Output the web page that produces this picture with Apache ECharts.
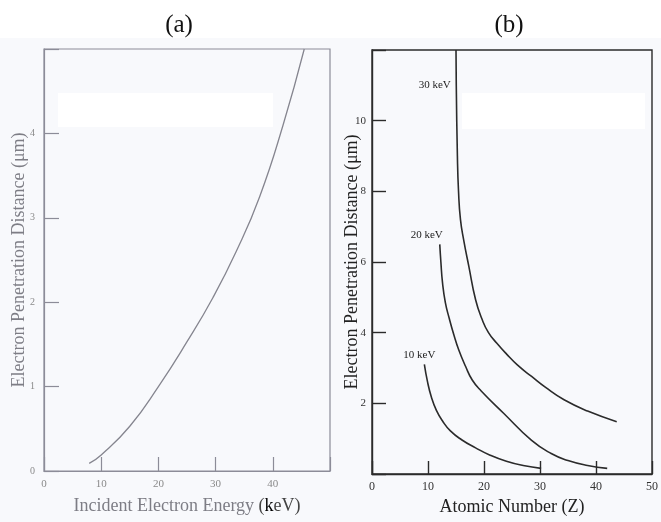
<!DOCTYPE html>
<html><head><meta charset="utf-8">
<script src="https://cdn.jsdelivr.net/npm/echarts@6/dist/echarts.min.js"></script>
<style>html,body{margin:0;padding:0;background:#f8f9fc}#c{width:661px;height:522px}</style>
</head><body><div id="c"></div>
<script>
// Panel (a): penetration distance vs incident energy
const energyKeV = [7.9, 10, 15, 20, 24.9, 29.5, 33.6, 37.7, 41.8, 45.5];
const depthA    = [0.09, 0.19, 0.53, 1.0, 1.52, 2.05, 2.6, 3.25, 4.1, 5.0];
// Panel (b): penetration distance vs atomic number
const z30 = [15.0, 15.05, 15.25, 15.45, 15.8, 16.4, 17.3, 18.5, 19.6, 20.8, 22.3, 24.0, 26.0, 28.5, 31.0, 34.3, 38.5, 43.7];
const d30 = [12.0, 11.0, 9.0, 8.0, 7.2, 6.6, 5.87, 4.93, 4.4, 4.0, 3.7, 3.4, 3.08, 2.76, 2.45, 2.1, 1.78, 1.48];
const z20 = [12.1, 12.3, 12.6, 13.1, 13.8, 14.6, 15.5, 16.7, 17.9, 19.5, 23.5, 28.5, 32.0, 35.0, 38.5, 42.0];
const d20 = [6.5, 6.0, 5.4, 4.85, 4.4, 3.95, 3.51, 3.05, 2.66, 2.35, 1.72, 0.95, 0.58, 0.38, 0.24, 0.16];
const z10 = [9.35, 9.9, 10.6, 11.5, 12.6, 14.0, 16.0, 18.5, 21.0, 24.0, 27.0, 30.2];
const d10 = [3.1, 2.62, 2.18, 1.8, 1.5, 1.22, 0.97, 0.74, 0.54, 0.36, 0.24, 0.16];
const seriesNames = ['30 keV', '20 keV', '10 keV'];
const titles = ['(a)', '(b)'];

const zip = (a, b) => a.map((v, i) => [v, b[i]]);
const GA = '#8c8c98', GT = '#8a8a8a', DK = '#2b2b2b';
const serif = 'Liberation Serif';

function tag(xs, ys, name, idx, pos, off) {
  return { silent: true, animation: false, data: [{
    coord: [xs[idx], ys[idx]], symbol: 'circle', symbolSize: 1, itemStyle: { color: 'rgba(0,0,0,0)' },
    label: { show: true, formatter: name, position: pos, offset: off, distance: 4,
      fontFamily: serif, fontSize: 11, color: '#222', letterSpacing: -0.5 } }] };
}

const lineBase = { type: 'line', smooth: 0.5, symbol: 'none' };

const chart = echarts.init(document.getElementById('c'), null, { renderer: 'canvas' });
chart.setOption({
  backgroundColor: '#f8f9fc',
  animation: false,
  title: [
    { text: titles[0], left: 174, top: 8, textAlign: 'center', textStyle: { fontFamily: serif, fontSize: 25, fontWeight: 'normal', color: '#111' } },
    { text: titles[1], left: 504, top: 8, textAlign: 'center', textStyle: { fontFamily: serif, fontSize: 25, fontWeight: 'normal', color: '#111' } }
  ],
  graphic: [
    { type: 'rect', z: -10, shape: { x: 0, y: 0, width: 661, height: 38 }, style: { fill: '#ffffff' } },
    { type: 'rect', z: 0, shape: { x: 58, y: 93, width: 215, height: 34 }, style: { fill: '#ffffff' } },
    { type: 'rect', z: 0, shape: { x: 462, y: 93, width: 183, height: 36 }, style: { fill: '#ffffff' } }
  ],
  grid: [
    { left: 44, top: 49, width: 286, height: 422, show: true, borderColor: GA, borderWidth: 1.2, backgroundColor: 'transparent' },
    { left: 372, top: 50, width: 284, height: 424, show: true, borderColor: DK, borderWidth: 1.4, backgroundColor: 'transparent' }
  ],
  xAxis: [
    { gridIndex: 0, type: 'value', min: 0, max: 50, interval: 10,
      name: '{g|Incident Electron Energy }{d|(}{k|k}{d|eV)}', nameLocation: 'middle', nameGap: 26,
      nameMoveOverlap: false,
      nameTextStyle: { rich: {
        g: { fontFamily: serif, fontSize: 18, color: '#7d7d85' },
        d: { fontFamily: serif, fontSize: 18, color: '#444' },
        k: { fontFamily: serif, fontSize: 18, color: '#000' } } },
      axisLine: { lineStyle: { color: GA, width: 1.2 } },
      axisTick: { inside: true, length: 14, lineStyle: { color: GA, width: 1.2 } },
      axisLabel: { margin: 8, fontFamily: serif, fontSize: 11, color: GT,
        formatter: v => v === 50 ? '' : String(v) },
      splitLine: { show: false } },
    { gridIndex: 1, type: 'value', min: 0, max: 50, interval: 10,
      name: 'Atomic Number (Z)', nameLocation: 'middle', nameGap: 24, nameMoveOverlap: false,
      nameTextStyle: { fontFamily: serif, fontSize: 18, color: '#222' },
      axisLine: { lineStyle: { color: DK, width: 1.4 } },
      axisTick: { inside: true, length: 13, lineStyle: { color: DK, width: 1.4 } },
      axisLabel: { margin: 7, fontFamily: serif, fontSize: 12, color: '#333' },
      splitLine: { show: false } }
  ],
  yAxis: [
    { gridIndex: 0, type: 'value', min: 0, max: 5, interval: 1,
      name: 'Electron Penetration Distance (μm)', nameLocation: 'middle', nameGap: 16, nameMoveOverlap: false,
      nameTextStyle: { fontFamily: serif, fontSize: 18, color: '#7d7d85' },
      axisLine: { lineStyle: { color: GA, width: 1.2 } },
      axisTick: { inside: true, length: 15, lineStyle: { color: GA, width: 1.2 } },
      axisLabel: { margin: 9, fontFamily: serif, fontSize: 10, color: GT,
        formatter: v => v === 5 ? '' : String(v) },
      splitLine: { show: false } },
    { gridIndex: 1, type: 'value', min: 0, max: 12, interval: 2,
      name: 'Electron Penetration Distance (μm)', nameLocation: 'middle', nameGap: 11, nameMoveOverlap: false,
      nameTextStyle: { fontFamily: serif, fontSize: 18, color: '#222' },
      axisLine: { lineStyle: { color: DK, width: 1.4 } },
      axisTick: { inside: true, length: 14, lineStyle: { color: DK, width: 1.4 } },
      axisLabel: { margin: 6, fontFamily: serif, fontSize: 11, color: '#333',
        formatter: v => (v === 0 || v === 12) ? '' : String(v) },
      splitLine: { show: false } }
  ],
  series: [
    Object.assign({}, lineBase, { xAxisIndex: 0, yAxisIndex: 0, data: zip(energyKeV, depthA),
      lineStyle: { color: '#85858f', width: 1.3 }, z: 5 }),
    Object.assign({}, lineBase, { name: seriesNames[0], xAxisIndex: 1, yAxisIndex: 1, data: zip(z30, d30),
      markPoint: tag(z30, d30, seriesNames[0], 1, 'left', [-1, 0]), lineStyle: { color: DK, width: 1.6 }, z: 5 }),
    Object.assign({}, lineBase, { name: seriesNames[1], xAxisIndex: 1, yAxisIndex: 1, data: zip(z20, d20),
      markPoint: tag(z20, d20, seriesNames[1], 0, 'top', [-13, 1]), lineStyle: { color: DK, width: 1.6 }, z: 5 }),
    Object.assign({}, lineBase, { name: seriesNames[2], xAxisIndex: 1, yAxisIndex: 1, data: zip(z10, d10),
      markPoint: tag(z10, d10, seriesNames[2], 0, 'top', [-5, 1]), lineStyle: { color: DK, width: 1.6 }, z: 5 })
  ]
});
</script></body></html>
